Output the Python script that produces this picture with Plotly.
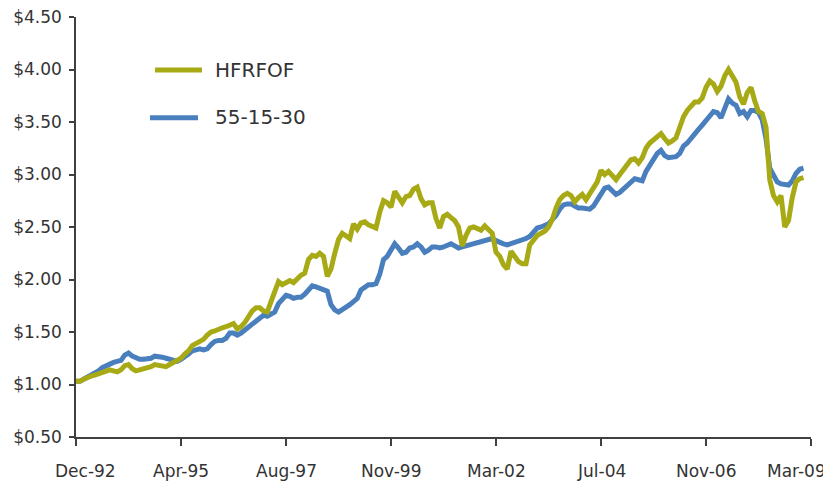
import plotly.graph_objects as go

# Valeurs mensuelles (Dec-92 -> Feb-09), base $1.00
hfrfof = [
	1.03, 1.03, 1.05, 1.07, 1.08, 1.09, 1.10, 1.11, 1.12, 1.14,
	1.13, 1.12, 1.14, 1.18, 1.19, 1.15, 1.13, 1.14, 1.14, 1.15,
	1.17, 1.19, 1.18, 1.18, 1.17, 1.19, 1.21, 1.23, 1.25, 1.29,
	1.32, 1.37, 1.39, 1.42, 1.43, 1.47, 1.50, 1.51, 1.53, 1.54,
	1.55, 1.57, 1.58, 1.53, 1.55, 1.59, 1.65, 1.70, 1.73, 1.73,
	1.70, 1.69, 1.79, 1.88, 1.98, 1.95, 1.97, 1.99, 1.97, 2.01,
	2.04, 2.06, 2.19, 2.23, 2.22, 2.25, 2.22, 2.03, 2.10, 2.25,
	2.38, 2.44, 2.42, 2.39, 2.53, 2.48, 2.54, 2.55, 2.52, 2.50,
	2.49, 2.64, 2.75, 2.73, 2.69, 2.84, 2.79, 2.73, 2.79, 2.80,
	2.86, 2.88, 2.77, 2.71, 2.73, 2.73, 2.58, 2.49, 2.60, 2.62,
	2.59, 2.56, 2.50, 2.32, 2.42, 2.49, 2.50, 2.48, 2.47, 2.51,
	2.47, 2.44, 2.26, 2.22, 2.14, 2.10, 2.27, 2.22, 2.17, 2.15,
	2.15, 2.33, 2.38, 2.42, 2.44, 2.46, 2.50, 2.57, 2.68, 2.76,
	2.80, 2.82, 2.80, 2.74, 2.78, 2.81, 2.76, 2.81, 2.88, 2.93,
	3.04, 3.00, 3.03, 2.99, 2.95, 3.00, 3.05, 3.10, 3.14, 3.15,
	3.11, 3.16, 3.25, 3.30, 3.33, 3.36, 3.39, 3.34, 3.30, 3.32,
	3.35, 3.45, 3.55, 3.61, 3.66, 3.69, 3.69, 3.73, 3.83, 3.89,
	3.86, 3.79, 3.84, 3.94, 4.00, 3.93, 3.88, 3.74, 3.67, 3.78,
	3.83, 3.70, 3.60, 3.58, 3.45, 2.95, 2.80, 2.74, 2.80, 2.50,
	2.56, 2.78, 2.93, 2.96, 2.97,
]

mix_55_15_30 = [
	1.03, 1.03, 1.05, 1.07, 1.09, 1.10, 1.13, 1.16, 1.18, 1.19,
	1.21, 1.22, 1.23, 1.28, 1.30, 1.27, 1.25, 1.24, 1.24, 1.24,
	1.25, 1.27, 1.27, 1.26, 1.25, 1.24, 1.22, 1.22, 1.24, 1.26,
	1.29, 1.32, 1.33, 1.34, 1.33, 1.34, 1.38, 1.41, 1.42, 1.42,
	1.44, 1.49, 1.49, 1.47, 1.49, 1.52, 1.54, 1.57, 1.60, 1.64,
	1.66, 1.65, 1.67, 1.69, 1.77, 1.81, 1.85, 1.84, 1.82, 1.83,
	1.83, 1.86, 1.91, 1.94, 1.93, 1.92, 1.90, 1.89, 1.76, 1.71,
	1.69, 1.71, 1.73, 1.76, 1.79, 1.82, 1.90, 1.93, 1.95, 1.95,
	1.96, 2.05, 2.19, 2.22, 2.28, 2.34, 2.30, 2.25, 2.26, 2.30,
	2.31, 2.34, 2.31, 2.26, 2.28, 2.31, 2.31, 2.30, 2.31, 2.33,
	2.34, 2.32, 2.30, 2.31, 2.32, 2.33, 2.34, 2.36, 2.37, 2.38,
	2.39, 2.39, 2.37, 2.35, 2.34, 2.33, 2.34, 2.36, 2.36, 2.38,
	2.39, 2.41, 2.45, 2.49, 2.50, 2.51, 2.53, 2.57, 2.61, 2.67,
	2.71, 2.72, 2.72, 2.70, 2.68, 2.68, 2.68, 2.67, 2.70, 2.75,
	2.82, 2.87, 2.88, 2.84, 2.81, 2.83, 2.86, 2.90, 2.93, 2.96,
	2.95, 2.94, 3.03, 3.09, 3.14, 3.20, 3.23, 3.18, 3.16, 3.16,
	3.17, 3.20, 3.27, 3.30, 3.35, 3.39, 3.43, 3.47, 3.51, 3.56,
	3.60, 3.59, 3.54, 3.63, 3.72, 3.68, 3.66, 3.58, 3.60, 3.55,
	3.61, 3.61, 3.59, 3.52, 3.34, 3.06, 2.99, 2.93, 2.91, 2.91,
	2.90, 2.94, 3.01, 3.05, 3.06,
]

# Axe des x : index du mois depuis Dec-92
mois = list(range(len(hfrfof)))
ticks_x = [0, 28, 56, 84, 112, 140, 168, 196]
labels_x = ['Dec-92', 'Apr-95', 'Aug-97', 'Nov-99', 'Mar-02', 'Jul-04', 'Nov-06', 'Mar-09']
decalage_x = [9, 0, 0, 0, 0, 0, 0, -15]

OLIVE = '#A7AA15'
BLEU = '#4A7FBE'
TEXTE = '#333333'
AXE = '#404040'
POLICE = 'DejaVu Sans'

fig = go.Figure()
fig.add_trace(go.Scatter(x=mois, y=mix_55_15_30, mode='lines', name='55-15-30',
	line=dict(color=BLEU, width=5)))
fig.add_trace(go.Scatter(x=mois, y=hfrfof, mode='lines', name='HFRFOF',
	line=dict(color=OLIVE, width=5)))

# la page html ajoute une marge de 8px autour de la figure : on la compense
fig.update_layout(
	width=823, height=477,
	margin=dict(l=68, r=20, t=9, b=48),
	paper_bgcolor='white', plot_bgcolor='white',
	showlegend=False,
	font=dict(family=POLICE, color=TEXTE, size=16),
)

fig.update_xaxes(
	range=[0, 196], tickvals=ticks_x, showticklabels=False,
	ticks='outside', ticklen=7, tickcolor=AXE, tickwidth=1.5,
	showline=True, linecolor=AXE, linewidth=1.5,
	showgrid=False, zeroline=False, automargin=False,
)
fig.update_yaxes(
	range=[0.5, 4.5], tick0=0.5, dtick=0.5, tickprefix='$', tickformat='.2f',
	ticks='outside', ticklen=5, tickcolor=AXE, tickwidth=1.5,
	showline=True, linecolor=AXE, linewidth=1.5,
	showgrid=False, zeroline=False, automargin=False,
	tickfont=dict(family=POLICE, size=17, color=TEXTE),
	ticklabelstandoff=4, ticklabeloverflow='allow',
)

# étiquettes de l'axe x (premiere et derniere decalees comme dans l'original)
for pos, lab, dx in zip(ticks_x, labels_x, decalage_x):
	fig.add_annotation(x=pos, y=0, xref='x', yref='paper', text=lab, showarrow=False,
		yanchor='top', yshift=-22, xshift=dx, font=dict(family=POLICE, size=17, color=TEXTE))

# légende dessinée à la main (lignes + texte)
fig.add_shape(type='line', xref='paper', yref='paper', x0=0.1075, x1=0.1714, y0=0.874, y1=0.874,
	line=dict(color=OLIVE, width=5))
fig.add_shape(type='line', xref='paper', yref='paper', x0=0.1007, x1=0.166, y0=0.760, y1=0.760,
	line=dict(color=BLEU, width=5))
fig.add_annotation(x=0.1864, y=0.874, xref='paper', yref='paper', text='HFRFOF', showarrow=False,
	xanchor='left', yanchor='middle', font=dict(family=POLICE, size=20, color=TEXTE))
fig.add_annotation(x=0.1864, y=0.762, xref='paper', yref='paper', text='55-15-30', showarrow=False,
	xanchor='left', yanchor='middle', font=dict(family=POLICE, size=20, color=TEXTE))

fig.write_html('out.html')
print('out.html généré')
